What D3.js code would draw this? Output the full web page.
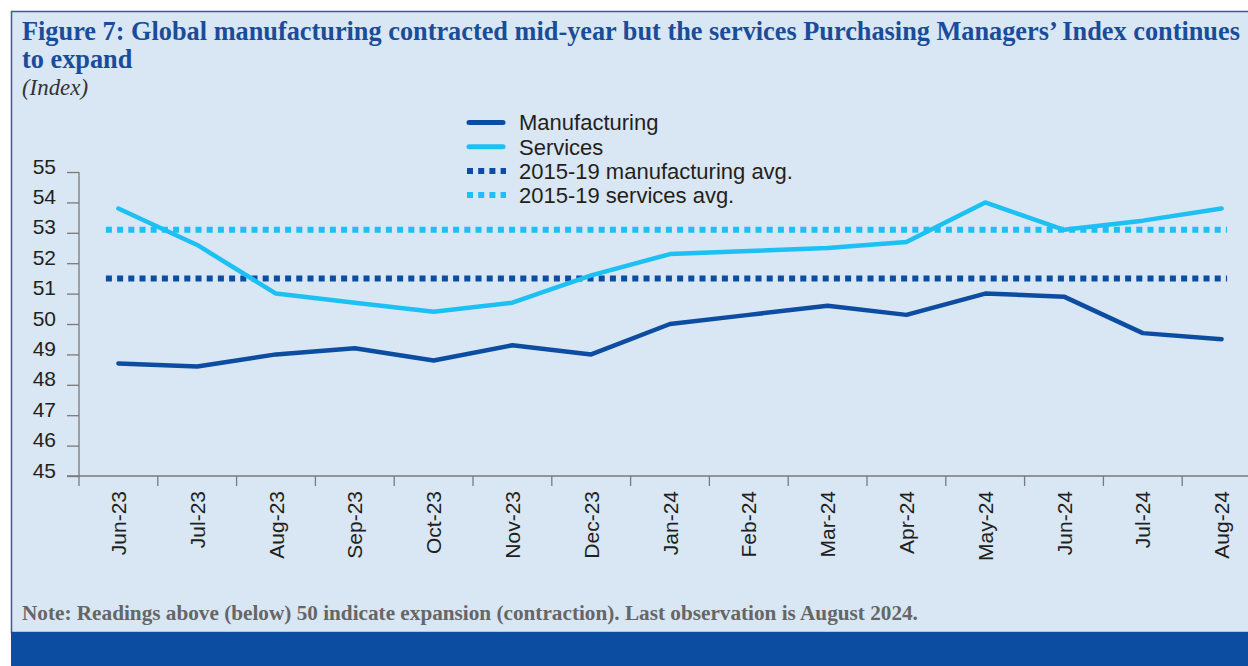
<!DOCTYPE html>
<html>
<head>
<meta charset="utf-8">
<script src="https://cdn.jsdelivr.net/npm/d3@7"></script>
<style>
  html, body { margin: 0; padding: 0; background: #ffffff; }
  svg { display: block; }
</style>
</head>
<body>
<svg id="chart" width="1248" height="666"></svg>
<script>
// Monthly PMI readings
const months = ["Jun-23", "Jul-23", "Aug-23", "Sep-23", "Oct-23", "Nov-23", "Dec-23",
                "Jan-24", "Feb-24", "Mar-24", "Apr-24", "May-24", "Jun-24", "Jul-24", "Aug-24"];
const manufacturing = [48.7, 48.6, 49.0, 49.2, 48.8, 49.3, 49.0, 50.0, 50.3, 50.6, 50.3, 51.0, 50.9, 49.7, 49.5];
const services      = [53.8, 52.6, 51.0, 50.7, 50.4, 50.7, 51.6, 52.3, 52.4, 52.5, 52.7, 54.0, 53.1, 53.4, 53.8];
// 2015-19 averages
const averageValues = [51.5, 53.1];
const averageNames  = ["2015-19 manufacturing avg.", "2015-19 services avg."];
const seriesNames   = ["Manufacturing", "Services"];
const yTicks = [45, 46, 47, 48, 49, 50, 51, 52, 53, 54, 55];

const titleLines = ["Figure 7: Global manufacturing contracted mid-year but the services Purchasing Managers\u2019 Index continues",
                    "to expand"];
const subtitle = "(Index)";
const note = "Note: Readings above (below) 50 indicate expansion (contraction). Last observation is August 2024.";

const C = {
  frameFill: "#d9e6f3",
  frameStroke: "#2c5fa9",
  band: "#0c4da1",
  title: "#1a4d99",
  text: "#231f20",
  noteText: "#666666",
  axis: "#7a7a7a",
  mfg: "#0c4da1",
  svc: "#1cc0f2"
};

const svg = d3.select("#chart");

// Frame and bottom band
svg.append("rect").attr("x", 11.5).attr("y", 11.5).attr("width", 1260).attr("height", 621)
  .attr("fill", C.frameFill).attr("stroke", C.frameStroke).attr("stroke-width", 1.5);
svg.append("rect").attr("x", 11).attr("y", 632).attr("width", 1260).attr("height", 40)
  .attr("fill", C.band);

// Fit a text element to a target width by scaling its font size
function fitWidth(sel, target) {
  const size = parseFloat(sel.attr("font-size"));
  const w = sel.node().getComputedTextLength();
  sel.attr("font-size", (size * target / w).toFixed(2));
  return size * target / w;
}

// Title
const t1 = svg.append("text").attr("x", 22).attr("y", 40)
  .attr("font-family", "Liberation Serif, serif").attr("font-weight", "bold")
  .attr("font-size", 24).attr("fill", C.title).text(titleLines[0]);
const titleSize = fitWidth(t1, 1218);
svg.append("text").attr("x", 22).attr("y", 68)
  .attr("font-family", "Liberation Serif, serif").attr("font-weight", "bold")
  .attr("font-size", titleSize).attr("fill", C.title).text(titleLines[1]);

const sub = svg.append("text").attr("x", 22).attr("y", 95)
  .attr("font-family", "Liberation Serif, serif").attr("font-style", "italic")
  .attr("font-size", 21).attr("fill", "#333333").text(subtitle);
fitWidth(sub, 66);

// Note
const nt = svg.append("text").attr("x", 22).attr("y", 620)
  .attr("font-family", "Liberation Serif, serif").attr("font-weight", "bold")
  .attr("font-size", 16).attr("fill", C.noteText).text(note);
fitWidth(nt, 896);

// Scales
const plotLeft = 79, plotBottom = 476, plotTop = 172, bandW = 78.8;
const x = d3.scaleBand().domain(months).range([plotLeft, plotLeft + bandW * months.length]).padding(0);
const y = d3.scaleLinear().domain([45, 55]).range([plotBottom, plotTop]);
const cx = m => x(m) + x.bandwidth() / 2;

// Y axis
const yAxis = svg.append("g").attr("transform", `translate(${plotLeft},0)`)
  .call(d3.axisLeft(y).tickValues(yTicks).tickSize(12).tickSizeOuter(0).tickPadding(11).tickFormat(d3.format("d")));
yAxis.select(".domain").remove();
yAxis.selectAll(".tick line").attr("stroke", C.axis).attr("stroke-width", 1.3);
yAxis.selectAll(".tick text").attr("font-family", "Liberation Sans, Arial, sans-serif")
  .attr("font-size", 21).attr("fill", C.text).attr("dy", "0.05em");
svg.append("line").attr("x1", plotLeft).attr("x2", plotLeft)
  .attr("y1", y.range()[1]).attr("y2", plotBottom + 10)
  .attr("stroke", C.axis).attr("stroke-width", 1.3);

// X axis
const xAxis = svg.append("g").attr("transform", `translate(0,${plotBottom})`)
  .call(d3.axisBottom(x).tickSize(0).tickSizeOuter(0));
xAxis.select(".domain").remove();
xAxis.selectAll(".tick text")
  .attr("font-family", "Liberation Sans, Arial, sans-serif").attr("font-size", 21).attr("fill", C.text)
  .attr("transform", "rotate(-90)").attr("text-anchor", "end")
  .attr("x", -15).attr("y", 0).attr("dy", "0.36em");
svg.append("line").attr("x1", 67).attr("x2", 1260)
  .attr("y1", plotBottom).attr("y2", plotBottom)
  .attr("stroke", C.axis).attr("stroke-width", 1.3);
svg.append("g").selectAll("line").data(months.slice(1)).join("line")
  .attr("x1", d => x(d)).attr("x2", d => x(d))
  .attr("y1", plotBottom).attr("y2", plotBottom + 10)
  .attr("stroke", C.axis).attr("stroke-width", 1.3);

// Average reference lines (dotted)
const avgColors = [C.mfg, C.svc];
svg.append("g").selectAll("line").data(averageValues).join("line")
  .attr("x1", cx(months[0]) - 12.5).attr("x2", cx(months[months.length - 1]) + 5.5)
  .attr("y1", d => y(d)).attr("y2", d => y(d))
  .attr("stroke", (d, i) => avgColors[i]).attr("stroke-width", 6)
  .attr("stroke-dasharray", "6 5.2");

// Series lines
const line = d3.line().x((d, i) => cx(months[i])).y(d => y(d));
[[manufacturing, C.mfg], [services, C.svc]].forEach(([vals, col]) => {
  svg.append("path").datum(vals).attr("d", line)
    .attr("fill", "none").attr("stroke", col).attr("stroke-width", 4.5)
    .attr("stroke-linecap", "round").attr("stroke-linejoin", "round");
});

// Legend
const legendItems = [
  { name: seriesNames[0], color: C.mfg, dotted: false },
  { name: seriesNames[1], color: C.svc, dotted: false },
  { name: averageNames[0], color: C.mfg, dotted: true },
  { name: averageNames[1], color: C.svc, dotted: true }
];
const lg = svg.append("g");
legendItems.forEach((it, i) => {
  const yy = 122.5 + i * 24.2;
  if (it.dotted) {
    lg.append("line").attr("x1", 467).attr("x2", 506).attr("y1", yy).attr("y2", yy)
      .attr("stroke", it.color).attr("stroke-width", 6).attr("stroke-dasharray", "6 5.2");
  } else {
    lg.append("line").attr("x1", 469).attr("x2", 503).attr("y1", yy).attr("y2", yy)
      .attr("stroke", it.color).attr("stroke-width", 5).attr("stroke-linecap", "round");
  }
  lg.append("text").attr("x", 519).attr("y", yy).attr("dy", "0.36em")
    .attr("font-family", "Liberation Sans, Arial, sans-serif").attr("font-size", 22)
    .attr("fill", C.text).text(it.name);
});
</script>
</body>
</html>
